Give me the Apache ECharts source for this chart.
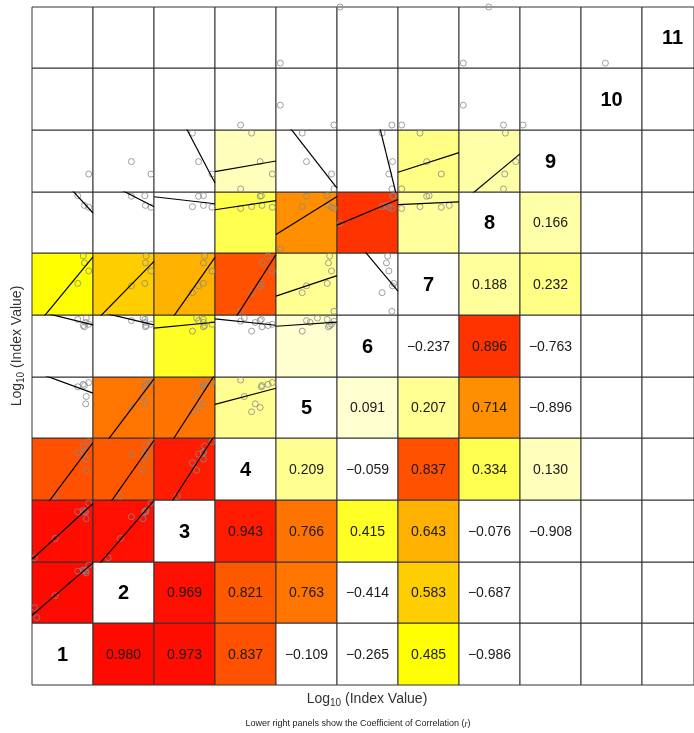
<!DOCTYPE html>
<html>
<head>
<meta charset="utf-8">
<script src="https://cdn.jsdelivr.net/npm/echarts@6/dist/echarts.min.js"></script>
<style>
html,body{margin:0;padding:0;background:#fff;}
#chart{width:694px;height:733px;}
</style>
</head>
<body>
<div id="chart"></div>
<script>
// ---------------- DATA ----------------
// Variables (scaled Log10 index values, 0 = panel low edge, 1 = panel high edge)
// observation order: A, B, C, D, E, F, G, J, H, I, K, L, M, N
const varLabels = ['1','2','3','4','5','6','7','8','9','10','11'];
const v1  = [0.04, 0.08, 0.38, 0.75, 0.84, 0.86, 0.89, 0.88, 0.93, null, null, null, null, null];
const v2  = [0.25, 0.09, 0.45, 0.85, 0.87, 0.86, 0.82, 0.85, 0.95, 0.63, null, null, null, null];
const v3  = [0.07, null, 0.38, 0.81, 0.83, 0.81, 0.70, 0.81, 0.95, 0.73, 0.63, null, null, null];
const v4  = [null, null, 0.06, 0.76, 0.87, 0.77, 0.48, 0.66, 0.94, 0.74, 0.60, 0.42, null, null];
const v5  = [null, null, null, 0.84, 0.88, 0.86, 0.68, 0.56, 0.91, 0.50, 0.43, 0.95, 0.07, null];
const v6  = [null, null, null, 0.93, 0.83, 0.81, 0.95, 0.88, 0.85, 0.91, 0.74, 0.90, null, 0.05];
const v7  = [null, null, null, 0.51, 0.95, 0.84, null, null, 0.71, 0.47, 0.36, 0.06, null, null];
const v8  = [null, null, null, 0.94, null, 0.78, null, null, 0.75, 0.93, 0.76, 0.73, 0.07, 0.49];
const v9  = [null, null, null, null, null, null, null, null, 0.29, 0.49, 0.95, 0.05, null, null];
const v10 = [null, null, null, null, null, null, null, null, null, null, null, 0.08, 0.40, null];
const v11 = [null, null, null, null, null, null, null, null, null, null, null, null, 0.08, 1.00];

// Coefficients of correlation r(i, j) for j > i (null = not shown)
const corr1  = [0.980, 0.973, 0.837, -0.109, -0.265, 0.485, -0.986, null, null, null];
const corr2  = [0.969, 0.821, 0.763, -0.414, 0.583, -0.687, null, null, null];
const corr3  = [0.943, 0.766, 0.415, 0.643, -0.076, -0.908, null, null];
const corr4  = [0.209, -0.059, 0.837, 0.334, 0.130, null, null];
const corr5  = [0.091, 0.207, 0.714, -0.896, null, null];
const corr6  = [-0.237, 0.896, -0.763, null, null];
const corr7  = [0.188, 0.232, null, null];
const corr8  = [0.166, null, null];
const corr9  = [null, null];
const corr10 = [null];

const axisTitle = 'Log10 (Index Value)';
const captionText = 'Lower right panels show the Coefficient of Correlation (r)';

// ---------------- BUILD ----------------
const vars = [v1, v2, v3, v4, v5, v6, v7, v8, v9, v10, v11];
const corrRows = [corr1, corr2, corr3, corr4, corr5, corr6, corr7, corr8, corr9, corr10];
const K = vars.length;
function getCorr(i, j) { // i<j, 0-based
  const row = corrRows[i];
  return row ? row[j - i - 1] : null;
}
function corrColor(r) {
  if (r == null || r <= 0) return '#ffffff';
  if (r >= 0.485) {
    const g = Math.round(255 * (1 - r) / 0.515);
    return 'rgb(255,' + Math.min(255, g) + ',0)';
  }
  const s = r / 0.485;
  return 'rgb(255,255,' + Math.round(255 * (1 - s)) + ')';
}
function fmt(r) {
  return r.toFixed(3).replace('-', '\u2212');
}

const X0 = 32, CW = 61.0, Y0 = 6.7, RH = 61.66;
const colLeft = c => Math.round(X0 + c * CW);
const rowTop = rIdxFromTop => Math.round(Y0 + rIdxFromTop * RH);

const option = {
  animation: false,
  backgroundColor: '#ffffff',
  grid: [], xAxis: [], yAxis: [], series: [], graphic: []
};

let gi = 0;
for (let c = 0; c < K; c++) {        // column = x variable index
  for (let rv = 0; rv < K; rv++) {   // row variable (0 = bottom)
    const topIdx = K - 1 - rv;
    const left = colLeft(c), top = rowTop(topIdx);
    const width = colLeft(c + 1) - left, height = rowTop(topIdx + 1) - top;
    let bg = '#ffffff';
    if (rv > c) bg = corrColor(getCorr(c, rv));
    else if (rv < c) bg = corrColor(getCorr(rv, c));
    option.grid.push({
      left: left, top: top, width: width, height: height,
      show: true, backgroundColor: bg, borderColor: '#333333', borderWidth: 1
    });
    option.xAxis.push({ gridIndex: gi, type: 'value', min: 0, max: 1, show: false });
    option.yAxis.push({ gridIndex: gi, type: 'value', min: 0, max: 1, show: false });

    const cx = left + width / 2, cy = top + height / 2;
    if (rv === c) {
      option.graphic.push({
        type: 'text', x: cx, y: cy + 1, z: 100,
        style: { text: varLabels[c], font: 'bold 20px "Liberation Sans", Arial, sans-serif',
                 fill: '#000', align: 'center', verticalAlign: 'middle',
                 textAlign: 'center', textVerticalAlign: 'middle' }
      });
    } else if (rv < c) {
      const r = getCorr(rv, c);
      if (r != null) {
        option.graphic.push({
          type: 'text', x: cx, y: cy + 1, z: 100,
          style: { text: fmt(r), font: '14px "Liberation Sans", Arial, sans-serif',
                   fill: '#1a1a1a', align: 'center', verticalAlign: 'middle',
                   textAlign: 'center', textVerticalAlign: 'middle' }
        });
      }
    } else {
      // scatter panel: x = vars[c], y = vars[rv]
      const xs = vars[c], ys = vars[rv];
      const pts = [];
      for (let k = 0; k < xs.length; k++) {
        if (xs[k] != null && ys[k] != null) pts.push([xs[k], ys[k]]);
      }
      if (pts.length) {
        option.series.push({
          type: 'scatter', xAxisIndex: gi, yAxisIndex: gi, data: pts,
          symbol: 'circle', symbolSize: 6, clip: false, silent: true,
          itemStyle: { color: 'rgba(255,255,255,0)', borderColor: '#888888', borderWidth: 1 }
        });
      }
      if (pts.length >= 3) {
        const n = pts.length;
        let sx = 0, sy = 0;
        pts.forEach(p => { sx += p[0]; sy += p[1]; });
        const mx = sx / n, my = sy / n;
        let sxy = 0, sxx = 0;
        pts.forEach(p => { sxy += (p[0] - mx) * (p[1] - my); sxx += (p[0] - mx) * (p[0] - mx); });
        const b = sxx > 0 ? sxy / sxx : 0;
        const a = my - b * mx;
        option.series.push({
          type: 'line', xAxisIndex: gi, yAxisIndex: gi,
          data: [[0, a], [1, a + b]], symbol: 'none', showSymbol: false,
          clip: true, silent: true,
          lineStyle: { color: '#000', width: 1.2 }
        });
      }
    }
    gi++;
  }
}

// axis titles and caption
const gridMidY = (rowTop(0) + rowTop(K)) / 2;
const titleParts = axisTitle.match(/^(Log)(10)(.*)$/);
const titleRich = {
  a: { fontSize: 14, fontFamily: '"Liberation Sans", Arial, sans-serif', fill: '#333', color: '#333' },
  s: { fontSize: 10, fontFamily: '"Liberation Sans", Arial, sans-serif', fill: '#333', color: '#333', padding: [9, 0, 0, 0] }
};
option.graphic.push({
  type: 'text', x: 367, y: 699, z: 100,
  style: { text: '{a|' + titleParts[1] + '}{s|' + titleParts[2] + '}{a|' + titleParts[3] + '}',
           rich: titleRich, align: 'center', verticalAlign: 'middle', textAlign: 'center', textVerticalAlign: 'middle' }
});
option.graphic.push({
  type: 'text', x: 17, y: gridMidY, rotation: Math.PI / 2, z: 100,
  style: { text: '{a|' + titleParts[1] + '}{s|' + titleParts[2] + '}{a|' + titleParts[3] + '}',
           rich: titleRich, align: 'center', verticalAlign: 'middle', textAlign: 'center', textVerticalAlign: 'middle' }
});
const capParts = captionText.match(/^(.*\()(r)(\))$/);
option.graphic.push({
  type: 'text', x: 358, y: 724, z: 100,
  style: { text: '{a|' + capParts[1] + '}{i|' + capParts[2] + '}{a|' + capParts[3] + '}',
           rich: {
             a: { fontSize: 9, fontFamily: '"Liberation Sans", Arial, sans-serif', fill: '#222', color: '#222' },
             i: { fontSize: 9, fontStyle: 'italic', fontFamily: '"Liberation Sans", Arial, sans-serif', fill: '#222', color: '#222' }
           },
           align: 'center', verticalAlign: 'middle', textAlign: 'center', textVerticalAlign: 'middle' }
});

const chart = echarts.init(document.getElementById('chart'), null, { renderer: 'canvas', width: 694, height: 733 });
chart.setOption(option);
</script>
</body>
</html>
